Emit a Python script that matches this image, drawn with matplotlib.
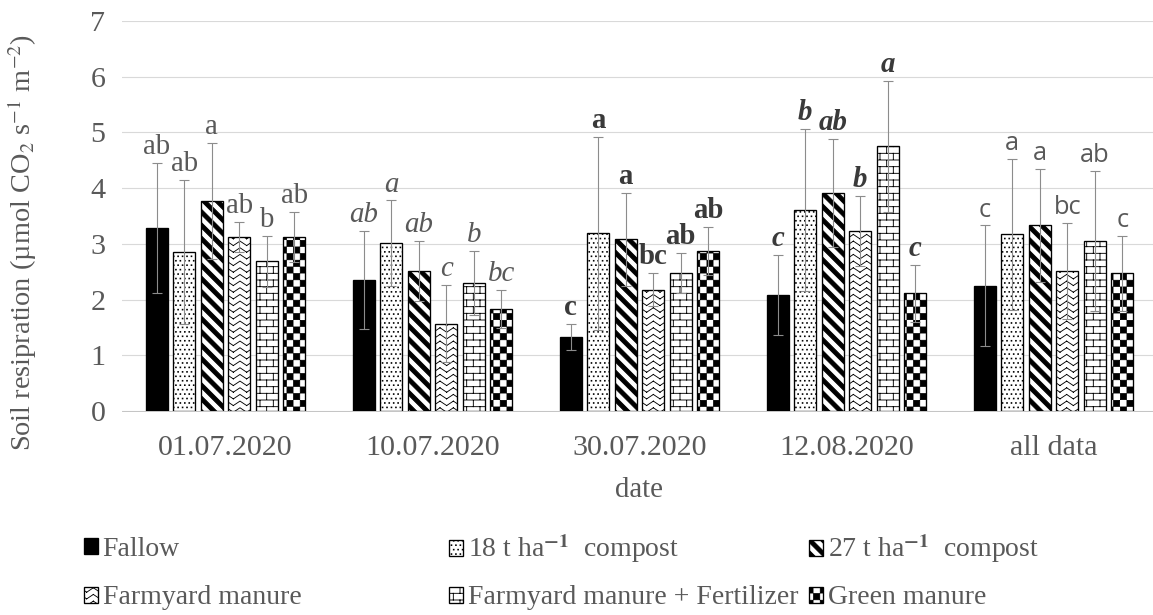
#!/usr/bin/env python
# -*- coding: utf-8 -*-
"""
Soil respiration per treatment and measuring date (mean + SD, Tukey letters)
"""
import warnings
import numpy as np
import matplotlib
matplotlib.use("Agg")
import matplotlib.pyplot as plt
from matplotlib import hatch as mhatch
from matplotlib.path import Path

warnings.filterwarnings("ignore")

# data
dates = ["01.07.2020", "10.07.2020", "30.07.2020", "12.08.2020", "all data"]
treatments = ["Fallow",
              r"18 t ha$^{\mathbf{-1}}$  compost",
              r"27 t ha$^{\mathbf{-1}}$  compost",
              "Farmyard manure",
              "Farmyard manure + Fertilizer",
              "Green manure"]

fallow = [3.29, 2.35, 1.33, 2.08, 2.25]
compost18 = [2.86, 3.01, 3.19, 3.61, 3.17]
compost27 = [3.77, 2.51, 3.08, 3.91, 3.33]
farmyard = [3.12, 1.57, 2.18, 3.23, 2.51]
farmyard_fert = [2.69, 2.30, 2.47, 4.75, 3.05]
green = [3.12, 1.83, 2.87, 2.11, 2.47]

fallow_sd = [1.17, 0.88, 0.24, 0.72, 1.08]
compost18_sd = [1.29, 0.77, 1.73, 1.45, 1.35]
compost27_sd = [1.04, 0.54, 0.84, 0.97, 1.01]
farmyard_sd = [0.27, 0.69, 0.29, 0.63, 0.86]
farmyard_fert_sd = [0.46, 0.57, 0.36, 1.17, 1.26]
green_sd = [0.45, 0.34, 0.43, 0.51, 0.68]

fallow_let = ["ab", "ab", "c", "c", "c"]
compost18_let = ["ab", "a", "a", "b", "a"]
compost27_let = ["a", "ab", "a", "ab", "a"]
farmyard_let = ["ab", "c", "bc", "b", "bc"]
farmyard_fert_let = ["b", "b", "ab", "a", "ab"]
green_let = ["ab", "bc", "ab", "c", "c"]

means = [fallow, compost18, compost27, farmyard, farmyard_fert, green]
sds = [fallow_sd, compost18_sd, compost27_sd, farmyard_sd, farmyard_fert_sd, green_sd]
letters = [fallow_let, compost18_let, compost27_let, farmyard_let, farmyard_fert_let, green_let]

DPI = 80
REP = 6          # pattern repeats in one hatch tile (tile = DPI pixels)
GRAY = "#595959"


# ---- Excel-like fill patterns as extra hatch types ----
class ExcelPattern(mhatch.HatchPatternBase):
    key = ""

    def __init__(self, hatch, density):
        self.items = self.build() if (self.key and self.key in hatch) else []
        self.num_vertices = sum(len(pts) + (1 if closed else 0)
                                for pts, closed in self.items)

    def build(self):
        return []

    def set_vertices_and_codes(self, vertices, codes):
        i = 0
        for pts, closed in self.items:
            n = len(pts)
            vertices[i:i + n] = pts
            codes[i] = Path.MOVETO
            codes[i + 1:i + n] = Path.LINETO
            i += n
            if closed:
                vertices[i] = pts[0]
                codes[i] = Path.CLOSEPOLY
                i += 1


def square(x0, y0, s):
    return [(x0, y0), (x0 + s, y0), (x0 + s, y0 + s), (x0, y0 + s)]


class WideDownDiagonal(ExcelPattern):
    key = "W"

    def build(self):
        p = 1.0 / REP
        w = 0.42 * p
        out = []
        for k in range(-2, 2 * REP + 2):
            c0 = k * p
            c1 = c0 + w
            out.append(([(-0.5, c0 + 0.5), (1.5, c0 - 1.5),
                         (1.5, c1 - 1.5), (-0.5, c1 + 0.5)], True))
        return out


class Checker(ExcelPattern):
    key = "C"

    def build(self):
        q = 0.5 / REP
        out = []
        for i in range(2 * REP):
            for j in range(2 * REP):
                if (i + j) % 2 == 0:
                    out.append((square(i * q + 0.004, j * q + 0.004, q - 0.008), True))
        return out


class Brick(ExcelPattern):
    key = "B"

    def build(self):
        p = 1.0 / REP
        h = p / 2
        out = []
        for j in range(2 * REP + 1):
            out.append(([(0, j * h), (1, j * h)], False))
        for j in range(2 * REP):
            off = (j % 2) * p / 2
            for k in range(REP + 1):
                x = k * p + off
                out.append(([(x, j * h), (x, (j + 1) * h)], False))
        return out


class ZigZag(ExcelPattern):
    key = "Z"

    def build(self):
        p = 1.0 / REP
        a = p / 3
        out = []
        for j in range(2 * REP):
            y0 = j * p / 2 + p / 12
            for k in range(REP):
                x0 = k * p
                out.append(([(x0, y0 + a), (x0 + p / 2, y0)], False))
                out.append(([(x0 + p / 2, y0), (x0 + p, y0 + a)], False))
        return out


class Dots(ExcelPattern):
    key = "D"

    def build(self):
        d = 1.0 / (3 * REP)
        out = []
        for j in range(3 * REP):
            off = (j % 2) * d / 2
            for i in range(3 * REP + 1):
                out.append((square(i * d + off, j * d + d / 4, 0.009), True))
        return out


mhatch._hatch_types.extend([WideDownDiagonal, Checker, Brick, ZigZag, Dots])

bar_faces = ["black", "white", "white", "white", "white", "white"]
bar_hatches = [None, "D", "W", "Z", "B", "C"]
letter_styles = [dict(family="Liberation Serif", color=GRAY, fontsize=26),
                 dict(family="Liberation Serif", style="italic", color=GRAY, fontsize=26),
                 dict(family="Liberation Serif", weight="bold", color="#3a3a3a", fontsize=26),
                 dict(family="Liberation Serif", weight="bold", style="italic",
                      color="#3a3a3a", fontsize=26),
                 dict(family="Open Sans", color=GRAY, fontsize=23)]

# legend slot of every treatment: (left x, row centre y) in pixels
legend_slots = [(84, 549), (449, 549), (809, 549),
                (84, 598), (449, 598), (809, 598)]


def plot_chart():
    plt.rcParams["font.family"] = "Liberation Serif"
    plt.rcParams["mathtext.fontset"] = "stix"
    plt.rcParams["hatch.linewidth"] = 0.8
    plt.rcParams["hatch.color"] = "black"

    W, H = 1153, 615
    fig = plt.figure(figsize=(W / DPI, H / DPI), dpi=DPI)
    ax = fig.add_axes([122 / W, (H - 411) / H, (1157 - 122) / W, 390 / H])

    x = np.arange(len(dates))
    stride = 0.1328
    width = 0.107
    handles = []
    for i, name in enumerate(treatments):
        xs = x + (i - 2.5) * stride
        bars = ax.bar(xs, means[i], width, color=bar_faces[i], edgecolor="black",
                      linewidth=1.2, hatch=bar_hatches[i], label=name, zorder=2)
        handles.append(bars)
        ax.errorbar(xs, means[i], yerr=sds[i], fmt="none", ecolor="#8c8c8c",
                    elinewidth=1.0, capsize=4.5, capthick=1.0, zorder=3)
        for j in range(len(dates)):
            ax.annotate(letters[i][j], (xs[j], means[i][j] + sds[i][j]),
                        xytext=(0, 8), textcoords="offset points",
                        ha="center", va="baseline", **letter_styles[j])

    ax.set_xlim(-0.5, len(dates) - 0.5)
    ax.set_ylim(0, 7)
    ax.set_yticks(range(8))
    ax.set_xticks(x)
    ax.set_xticklabels(dates)
    ax.grid(axis="y", color="#d9d9d9", linewidth=1.0, zorder=0)
    ax.set_axisbelow(True)
    for side in ["top", "right", "left"]:
        ax.spines[side].set_visible(False)
    ax.spines["bottom"].set_color("#bfbfbf")
    ax.tick_params(axis="both", length=0, labelsize=27, labelcolor=GRAY)
    ax.tick_params(axis="x", pad=22)
    ax.tick_params(axis="y", pad=15)
    ax.set_xlabel("date", fontsize=26, color=GRAY, labelpad=14)

    fig.text(22 / W, 1 - 242 / H,
             r"Soil resipration (µmol CO$_2$ s$^{-1}$ m$^{-2}$)",
             rotation=90, ha="center", va="center", fontsize=25.5, color=GRAY)

    # legend: one small legend per treatment, laid out in two rows
    for i, name in enumerate(treatments):
        lx, ly = legend_slots[i]
        leg = fig.legend([handles[i]], [name], loc="center left",
                         bbox_to_anchor=(lx / W, 1 - ly / H),
                         frameon=False, fontsize=25, handlelength=0.52,
                         handleheight=0.52, handletextpad=0.15,
                         borderpad=0, borderaxespad=0)
        for t in leg.get_texts():
            t.set_color(GRAY)

    fig.savefig("out.png", dpi=DPI)


def main():
    plot_chart()


if __name__ == "__main__":
    main()
